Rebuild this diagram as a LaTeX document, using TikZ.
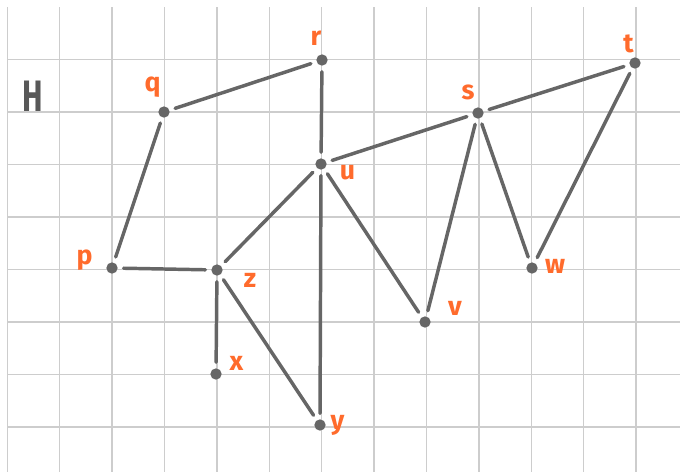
\documentclass[tikz,border=0pt]{standalone}
\usepackage{fontspec}
\setmainfont{Fira Sans}
\definecolor{gridc}{HTML}{CDCDCD}
\definecolor{edgec}{HTML}{666666}
\definecolor{lblc}{HTML}{FF6B2C}
\definecolor{titlec}{HTML}{585858}
\begin{document}
\begin{tikzpicture}[x=0.75pt,y=-0.75pt,
  vtx/.style={circle,fill=edgec,draw=none,minimum size=8.5pt,inner sep=0pt,outer sep=0pt},
  lbl/.style={text=lblc,font=\fontsize{20}{20}\selectfont\bfseries,inner sep=0pt},
  edg/.style={draw=edgec,line width=2.6pt,line cap=round,shorten >=4.5pt,shorten <=4.5pt},
  gridline/.style={draw=gridc,line width=1.1pt}]
\path[fill=white,use as bounding box] (0,0) rectangle (680,472);
% grid
\foreach \i in {0,...,12} {
  \draw[gridline] ({7.3+52.4*\i},7) -- ({7.3+52.4*\i},472);
}
\foreach \j in {0,...,7} {
  \draw[gridline] (7,{59.3+52.55*\j}) -- (680,{59.3+52.55*\j});
}
% title
\node[text=titlec,font=\fontsize{33}{33}\selectfont\bfseries,inner sep=0pt,xscale=0.7,transform shape] (H) at (33,96) {H};
% vertices
\node[vtx] (q) at (164,112) {};
\node[vtx] (r) at (322,60) {};
\node[vtx] (u) at (321,164) {};
\node[vtx] (s) at (478,113) {};
\node[vtx] (t) at (635,63) {};
\node[vtx] (p) at (112,268) {};
\node[vtx] (z) at (217,270) {};
\node[vtx] (x) at (216,374) {};
\node[vtx] (y) at (320,425) {};
\node[vtx] (v) at (425,322) {};
\node[vtx] (w) at (532,268) {};
% labels
\node[lbl] (lq) at (152.5,87) {q};
\node[lbl] (lr) at (316,38.5) {r};
\node[lbl] (lu) at (347.5,172.5) {u};
\node[lbl] (ls) at (468,92) {s};
\node[lbl] (lt) at (628.5,44) {t};
\node[lbl] (lp) at (84.5,260) {p};
\node[lbl] (lz) at (250,280) {z};
\node[lbl] (lx) at (236.5,363) {x};
\node[lbl] (ly) at (337.5,425.5) {y};
\node[lbl] (lv) at (455,308.5) {v};
\node[lbl] (lw) at (555,266) {w};
% edges
\draw[edg] (q) -- (r);
\draw[edg] (q) -- (p);
\draw[edg] (r) -- (u);
\draw[edg] (u) -- (s);
\draw[edg] (s) -- (t);
\draw[edg] (s) -- (v);
\draw[edg] (s) -- (w);
\draw[edg] (t) -- (w);
\draw[edg] (u) -- (z);
\draw[edg] (u) -- (v);
\draw[edg] (u) -- (y);
\draw[edg] (p) -- (z);
\draw[edg] (z) -- (x);
\draw[edg] (z) -- (y);
\end{tikzpicture}
\end{document}
